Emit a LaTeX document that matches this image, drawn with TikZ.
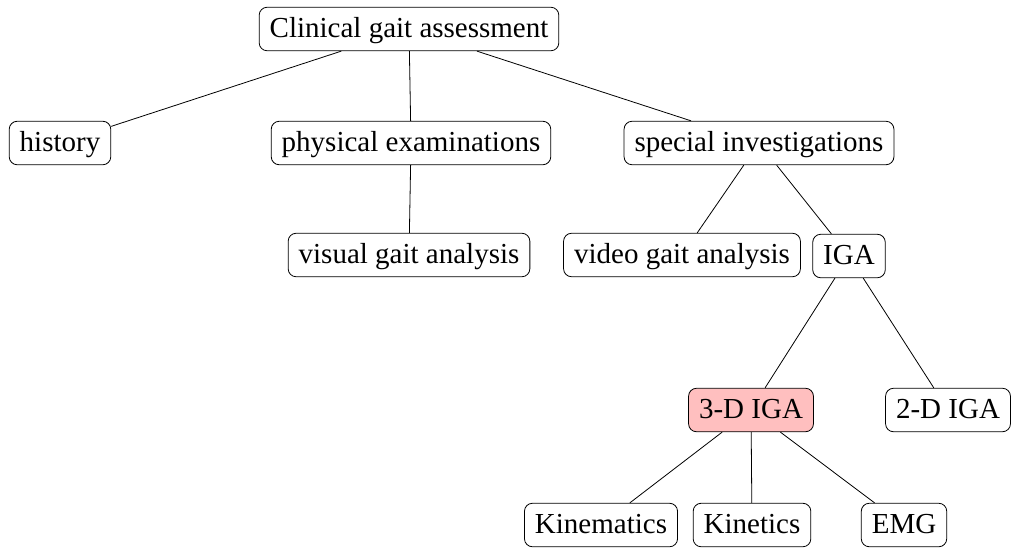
\documentclass[tikz,border=0pt]{standalone}
\usepackage{fontspec}
\setmainfont{Liberation Serif}
\begin{document}
\begin{tikzpicture}[x=1pt,y=-1pt,
  box/.style={draw, rounded corners=8pt, line width=0.8pt,
    font=\fontsize{29}{32}\selectfont,
    text height=22pt, text depth=4.5pt, inner xsep=10.5pt, inner ysep=8.5pt},
  hot/.style={box, fill=red!25},
  link/.style={line width=0.8pt}]
\useasboundingbox (0,0) rectangle (1011,547);
% tree nodes
\node[box] (root) at (409,29) {Clinical gait assessment};
\node[box] (hist) at (60,143) {history};
\node[box] (phys) at (411,143) {physical examinations};
\node[box] (spec) at (759,143) {special investigations};
\node[box] (vis) at (409,255) {visual gait analysis};
\node[box] (vid) at (682,255) {video gait analysis};
\node[box] (iga) at (849,256) {IGA};
\node[hot] (td) at (751,410) {3-D IGA};
\node[box] (dd) at (948,410) {2-D IGA};
\node[box] (kinm) at (601,525) {Kinematics};
\node[box] (kint) at (752,525) {Kinetics};
\node[box] (emg) at (904,525) {EMG};
% connectors
\draw[link] (root) -- (hist);
\draw[link] (root) -- (phys);
\draw[link] (root) -- (spec);
\draw[link] (phys) -- (vis);
\draw[link] (spec) -- (vid);
\draw[link] (spec) -- (iga);
\draw[link] (iga) -- (td);
\draw[link] (iga) -- (dd);
\draw[link] (td) -- (kinm);
\draw[link] (td) -- (kint);
\draw[link] (td) -- (emg);
\end{tikzpicture}
\end{document}
